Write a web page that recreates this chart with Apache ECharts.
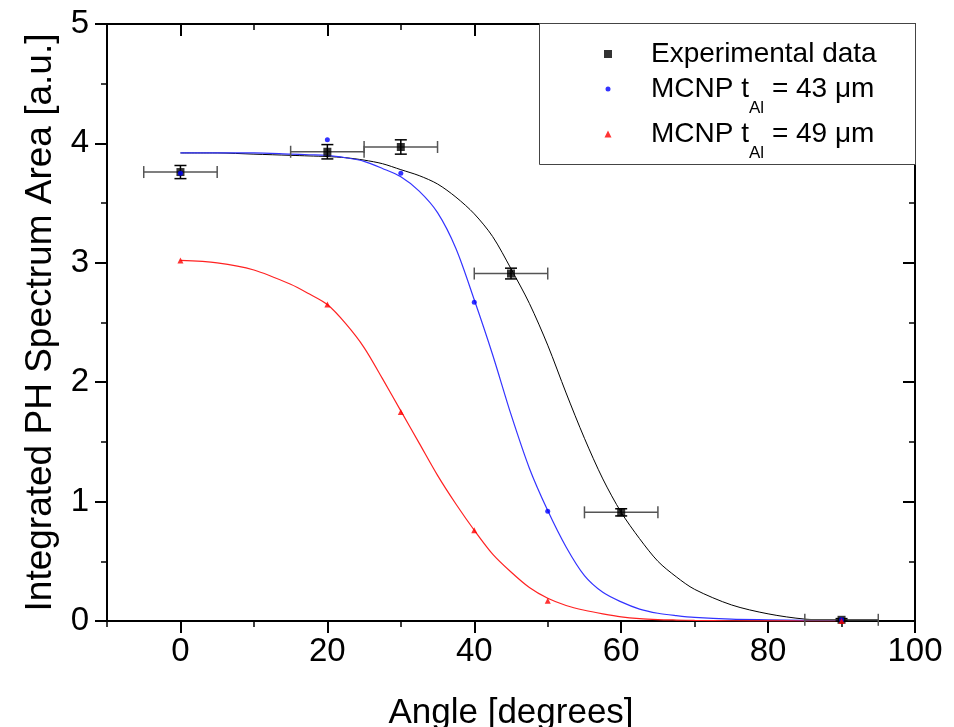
<!DOCTYPE html>
<html>
<head>
<meta charset="utf-8">
<script src="https://cdn.jsdelivr.net/npm/echarts@6/dist/echarts.min.js"></script>
<style>html,body{margin:0;padding:0;background:#fff;overflow:hidden}#c{width:954px;height:727px}</style>
</head>
<body>
<div id="c"></div>
<script>
// ---- data ----
const expAngle = [0, 20, 30, 45, 60, 90];
const expArea = [3.76, 3.93, 3.97, 2.91, 0.91, 0.01];
const expAngleErr = [5, 5, 5, 5, 5, 5];
const expAreaErr = [0.055, 0.06, 0.06, 0.045, 0.03, 0.01];

const mcnpAngle = [0, 20, 30, 40, 50, 90];
const mcnp43 = [3.75, 4.03, 3.75, 2.67, 0.92, 0.01];
const mcnp49 = [3.02, 2.65, 1.75, 0.76, 0.17, 0.0];

const fitAngle = [0, 5, 10, 15, 17.5, 20, 22.5, 25, 27.5, 30, 32.5, 35, 37.5, 40, 42.5, 45, 47.5, 50, 52.5, 55, 57.5, 60, 62.5, 65, 67.5, 70, 75, 80, 85, 90];
const fitExp = [3.92, 3.92, 3.91, 3.90, 3.895, 3.89, 3.88, 3.86, 3.83, 3.78, 3.73, 3.66, 3.55, 3.41, 3.22, 2.95, 2.66, 2.31, 1.91, 1.53, 1.19, 0.91, 0.69, 0.50, 0.37, 0.265, 0.135, 0.06, 0.016, 0.005];
const fit43 = [3.92, 3.92, 3.92, 3.91, 3.905, 3.90, 3.88, 3.85, 3.79, 3.72, 3.60, 3.42, 3.12, 2.69, 2.23, 1.73, 1.28, 0.925, 0.62, 0.38, 0.24, 0.16, 0.10, 0.065, 0.045, 0.03, 0.015, 0.01, 0.006, 0.004];
const fit49 = [3.02, 3.00, 2.94, 2.82, 2.74, 2.65, 2.49, 2.29, 2.03, 1.76, 1.49, 1.22, 0.98, 0.76, 0.56, 0.41, 0.28, 0.19, 0.13, 0.09, 0.06, 0.035, 0.02, 0.012, 0.008, 0.005, 0.002, 0.001, 0.0, 0.0];

const xMajor = [0, 20, 40, 60, 80, 100];
const xMinor = [-10, 10, 30, 50, 70, 90];

const legendNames = ['Experimental data', 'MCNP t_Al = 43 μm', 'MCNP t_Al = 49 μm'];

// ---- build ----
const FONT = 'Liberation Sans, Arial, sans-serif';
const zip = (a, b) => a.map((v, i) => [v, b[i]]);
const expErrData = expAngle.map((x, i) => [x, expArea[i], expAngleErr[i], expAreaErr[i]]);

function xAxisBase(pos, ticks, len, inside, labels) {
  return {
    type: 'value', position: pos, min: -10, max: 100, gridIndex: 0,
    axisLine: { show: true, onZero: false, lineStyle: { color: '#000', width: 2 } },
    axisTick: { show: true, inside: inside, length: len, customValues: ticks, lineStyle: { color: '#000', width: len > 8 ? 2 : 1.5 } },
    axisLabel: labels ? { show: true, customValues: ticks, fontSize: 33, color: '#000', fontFamily: FONT, margin: 14 } : { show: false },
    splitLine: { show: false }
  };
}

const xAxes = [
  Object.assign(xAxisBase('bottom', xMajor, 12, false, true), {
    name: 'Angle [degrees]', nameLocation: 'middle', nameGap: 75,
    nameTextStyle: { fontSize: 35, color: '#000', fontFamily: FONT }
  }),
  xAxisBase('bottom', xMinor, 6, false, false),
  xAxisBase('top', xMajor, 12, true, false),
  xAxisBase('top', xMinor, 6, true, false)
];

function yAxisBase(pos, inside, labels) {
  return {
    type: 'value', position: pos, min: 0, max: 5, interval: 1,
    axisLine: { show: true, onZero: false, lineStyle: { color: '#000', width: 2 } },
    axisTick: { show: true, inside: inside, length: 12, lineStyle: { color: '#000', width: 2 } },
    minorTick: { show: true, splitNumber: 2, length: 6, lineStyle: { color: '#000', width: 1.5 } },
    axisLabel: labels ? { show: true, fontSize: 33, color: '#000', fontFamily: FONT, margin: 18 } : { show: false },
    splitLine: { show: false }, minorSplitLine: { show: false }
  };
}

const yAxes = [
  Object.assign(yAxisBase('left', false, true), {
    name: 'Integrated PH Spectrum Area [a.u.]', nameLocation: 'middle', nameGap: 48, nameRotate: 90,
    nameTextStyle: { fontSize: 37, color: '#000', fontFamily: FONT }
  }),
  yAxisBase('right', true, false)
];

function subLegend(name, icon, size, top, pad, tall, parts) {
  const left = 608 - size / 2;
  const L = tall ? 56 : 28;
  const rich = {
    p: { fontSize: 28, fontFamily: FONT, color: '#000', lineHeight: L, padding: [0, 0, 0, pad] },
    b: { fontSize: 28, fontFamily: FONT, color: '#000', lineHeight: L },
    s: { fontSize: 17, fontFamily: FONT, color: '#000', lineHeight: 10, verticalAlign: 'bottom' }
  };
  return {
    show: true, orient: 'vertical', left: left, top: top, padding: 0, itemGap: 0,
    itemWidth: size, itemHeight: size, selectedMode: false, z: 60,
    data: [{ name: name, icon: icon }],
    textStyle: { fontSize: 28, fontFamily: FONT, color: '#000', rich: rich },
    formatter: () => parts
  };
}

const legends = [
  subLegend(legendNames[0], 'rect', 8, 40, 34, false, '{p|Experimental data}'),
  subLegend(legendNames[1], 'circle', 5, 75, 35.5, true, '{p|MCNP t}{s|Al}{b| = 43 μm}'),
  subLegend(legendNames[2], 'triangle', 7, 120, 34.5, true, '{p|MCNP t}{s|Al}{b| = 49 μm}')
];

const option = {
  animation: false,
  backgroundColor: '#fff',
  grid: { left: 107, right: 39, top: 24, height: 597, containLabel: false, outerBoundsMode: 'none' },
  xAxis: xAxes,
  yAxis: yAxes,
  legend: legends,
  graphic: {
    elements: [{
      type: 'rect', z: 55, shape: { x: 539.5, y: 23.5, width: 376, height: 141 },
      style: { fill: '#fff', stroke: '#444', lineWidth: 1 }
    }]
  },
  series: [
    { type: 'line', name: 'fitExp', data: zip(fitAngle, fitExp), smooth: 0.3, showSymbol: false, symbol: 'none',
      lineStyle: { color: '#000', width: 1 }, z: 3 },
    { type: 'line', name: 'fit43', data: zip(fitAngle, fit43), smooth: 0.3, showSymbol: false, symbol: 'none',
      lineStyle: { color: '#3333ff', width: 1.2 }, z: 3 },
    { type: 'line', name: 'fit49', data: zip(fitAngle, fit49), smooth: 0.3, showSymbol: false, symbol: 'none',
      lineStyle: { color: '#ff2222', width: 1.2 }, z: 3 },
    {
      type: 'custom', name: 'expErr', data: expErrData, encode: { x: 0, y: 1 }, z: 4,
      renderItem: function (params, api) {
        const x = api.value(0), y = api.value(1), dx = api.value(2), dy = api.value(3);
        const l = api.coord([x - dx, y]), r = api.coord([x + dx, y]);
        const t = api.coord([x, y + dy]), b = api.coord([x, y - dy]);
        const hs = { stroke: '#555', lineWidth: 1.5 };
        const vs = { stroke: '#000', lineWidth: 1.5 };
        const c = 6;
        return {
          type: 'group', children: [
            { type: 'line', shape: { x1: l[0], y1: l[1], x2: r[0], y2: r[1] }, style: hs },
            { type: 'line', shape: { x1: l[0], y1: l[1] - c, x2: l[0], y2: l[1] + c }, style: hs },
            { type: 'line', shape: { x1: r[0], y1: r[1] - c, x2: r[0], y2: r[1] + c }, style: hs },
            { type: 'line', shape: { x1: t[0], y1: t[1], x2: b[0], y2: b[1] }, style: vs },
            { type: 'line', shape: { x1: t[0] - c, y1: t[1], x2: t[0] + c, y2: t[1] }, style: vs },
            { type: 'line', shape: { x1: b[0] - c, y1: b[1], x2: b[0] + c, y2: b[1] }, style: vs }
          ]
        };
      }
    },
    { type: 'scatter', name: legendNames[0], data: zip(expAngle, expArea), symbol: 'rect', symbolSize: 8,
      itemStyle: { color: '#000' }, z: 5 },
    { type: 'scatter', name: legendNames[1], data: zip(mcnpAngle, mcnp43), symbol: 'circle', symbolSize: 5,
      itemStyle: { color: '#0000ff' }, z: 6 },
    { type: 'scatter', name: legendNames[2], data: zip(mcnpAngle, mcnp49), symbol: 'triangle', symbolSize: 6,
      itemStyle: { color: '#ff0000' }, z: 6 }
  ]
};

const chart = echarts.init(document.getElementById('c'), null, { renderer: 'canvas' });
chart.setOption(option);
</script>
</body>
</html>
